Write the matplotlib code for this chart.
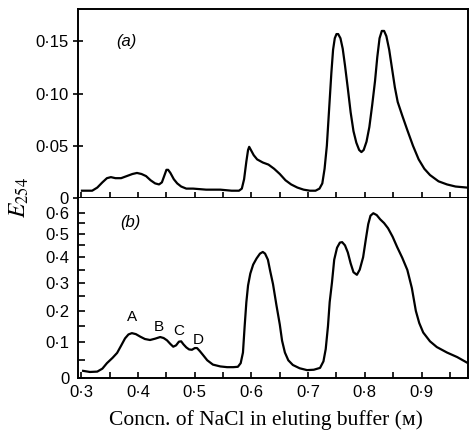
import numpy as np
import matplotlib
matplotlib.use("Agg")
from matplotlib import pyplot as plt
from matplotlib.ticker import FixedLocator, FixedFormatter

plt.rcParams['mathtext.fontset'] = 'stix'

# (a) elution profile, E254 vs NaCl concentration
conc_a = [0.301, 0.319, 0.328, 0.337, 0.345, 0.352, 0.360, 0.370, 0.380, 0.390,
          0.398, 0.406, 0.414, 0.422, 0.430, 0.437, 0.442, 0.446, 0.450, 0.453,
          0.457, 0.463, 0.469, 0.476, 0.485, 0.497, 0.520, 0.545, 0.565, 0.578,
          0.583, 0.587, 0.591, 0.594, 0.596, 0.599, 0.604, 0.610, 0.620, 0.630,
          0.640, 0.650, 0.660, 0.670, 0.681, 0.692, 0.703, 0.713, 0.720, 0.725,
          0.729, 0.733, 0.737, 0.741, 0.744, 0.747, 0.750, 0.753, 0.757, 0.761,
          0.765, 0.770, 0.775, 0.780, 0.785, 0.790, 0.794, 0.798, 0.803, 0.808,
          0.813, 0.818, 0.822, 0.826, 0.830, 0.834, 0.838, 0.843, 0.848, 0.853,
          0.858, 0.866, 0.875, 0.885, 0.895, 0.905, 0.915, 0.930, 0.945, 0.960, 0.980]
e254_a = [0.007, 0.007, 0.010, 0.015, 0.019, 0.020, 0.019, 0.019, 0.021, 0.023,
          0.024, 0.023, 0.021, 0.017, 0.014, 0.013, 0.015, 0.021, 0.027, 0.027,
          0.024, 0.018, 0.014, 0.011, 0.009, 0.009, 0.008, 0.008, 0.007, 0.007,
          0.009, 0.018, 0.035, 0.046, 0.049, 0.046, 0.041, 0.037, 0.034, 0.032,
          0.028, 0.023, 0.017, 0.013, 0.010, 0.008, 0.007, 0.007, 0.009, 0.014,
          0.028, 0.050, 0.085, 0.120, 0.142, 0.153, 0.157, 0.157, 0.153, 0.143,
          0.127, 0.105, 0.082, 0.064, 0.053, 0.046, 0.044, 0.046, 0.054, 0.068,
          0.089, 0.112, 0.135, 0.153, 0.160, 0.160, 0.155, 0.142, 0.124, 0.106,
          0.092, 0.079, 0.065, 0.050, 0.037, 0.028, 0.022, 0.016, 0.013, 0.011, 0.010]

# (b) elution profile
conc_b = [0.303, 0.315, 0.328, 0.337, 0.345, 0.355, 0.363, 0.370, 0.377, 0.383,
          0.389, 0.396, 0.404, 0.412, 0.421, 0.430, 0.439, 0.445, 0.451, 0.457,
          0.462, 0.467, 0.472, 0.476, 0.480, 0.485, 0.490, 0.495, 0.500, 0.504,
          0.509, 0.515, 0.522, 0.532, 0.545, 0.557, 0.568, 0.576, 0.581, 0.585,
          0.588, 0.591, 0.594, 0.598, 0.603, 0.609, 0.615, 0.620, 0.624, 0.629,
          0.633, 0.638, 0.644, 0.650, 0.654, 0.659, 0.665, 0.673, 0.685, 0.698,
          0.710, 0.721, 0.727, 0.731, 0.735, 0.738, 0.742, 0.746, 0.751, 0.756,
          0.760, 0.765, 0.770, 0.775, 0.780, 0.786, 0.791, 0.797, 0.802, 0.806,
          0.810, 0.815, 0.821, 0.827, 0.834, 0.841, 0.849, 0.857, 0.866, 0.875,
          0.883, 0.890, 0.896, 0.903, 0.915, 0.927, 0.945, 0.963, 0.982]
e254_b = [0.019, 0.016, 0.017, 0.025, 0.040, 0.055, 0.069, 0.090, 0.112, 0.124,
          0.128, 0.125, 0.117, 0.110, 0.107, 0.111, 0.116, 0.113, 0.106, 0.095,
          0.087, 0.091, 0.102, 0.103, 0.094, 0.085, 0.079, 0.078, 0.083, 0.083,
          0.074, 0.062, 0.048, 0.036, 0.031, 0.029, 0.029, 0.030, 0.040, 0.070,
          0.150, 0.230, 0.290, 0.335, 0.370, 0.395, 0.415, 0.422, 0.415, 0.390,
          0.345, 0.295, 0.220, 0.155, 0.105, 0.070, 0.048, 0.035, 0.026, 0.021,
          0.022, 0.027, 0.045, 0.080, 0.150, 0.230, 0.300, 0.390, 0.440, 0.462,
          0.464, 0.450, 0.420, 0.375, 0.340, 0.330, 0.350, 0.400, 0.480, 0.545,
          0.585, 0.597, 0.588, 0.568, 0.550, 0.526, 0.488, 0.443, 0.398, 0.349,
          0.280, 0.200, 0.160, 0.130, 0.103, 0.086, 0.070, 0.057, 0.040]

peak_names = ['A', 'B', 'C', 'D']
peak_x = [0.390, 0.437, 0.472, 0.507]
peak_y = [0.180, 0.147, 0.135, 0.107]

xticks = [0.3, 0.4, 0.5, 0.6, 0.7, 0.8, 0.9]
xlabels = ['0·3', '0·4', '0·5', '0·6', '0·7', '0·8', '0·9']
xminor = [0.35, 0.45, 0.55, 0.65, 0.75, 0.85, 0.95]
ya_ticks = [0, 0.05, 0.10, 0.15]
ya_labels = ['0', '0·05', '0·10', '0·15']
yb_ticks = [0, 0.1, 0.2, 0.3, 0.4, 0.5, 0.6]
yb_labels = ['0', '0·1', '0·2', '0·3', '0·4', '0·5', '0·6']
yb_minor = [0.05, 0.15, 0.25, 0.35, 0.45, 0.55]

fig = plt.figure(figsize=(4.7, 4.33), dpi=100)
ax1 = fig.add_axes([0.166, 0.5427, 0.8297, 0.4365])
ax2 = fig.add_axes([0.166, 0.127, 0.8297, 0.4157])

for ax in (ax1, ax2):
    ax.set_xlim(0.294, 0.982)
    ax.xaxis.set_major_locator(FixedLocator(xticks))
    ax.xaxis.set_minor_locator(FixedLocator(xminor))
    ax.tick_params(axis='x', which='both', direction='in', length=4, width=1.2)
    for s in ax.spines.values():
        s.set_linewidth(1.4)

# top panel
ax1.plot(conc_a, e254_a, color='black', lw=1.6)
ax1.set_ylim(0, 0.181)
ax1.yaxis.set_major_locator(FixedLocator(ya_ticks))
ax1.yaxis.set_major_formatter(FixedFormatter(ya_labels))
ax1.tick_params(axis='y', direction='inout', length=7, width=1.2, pad=3)
ax1.set_xticklabels([])
for lab in ax1.get_yticklabels():
    lab.set_fontfamily('Liberation Sans')
    lab.set_fontsize(12)
ax1.text(0.38, 0.150, '(a)', fontsize=12, style='italic', family='Liberation Sans',
         ha='center', va='center')

# bottom panel, compressed absorbance scale
fwd = lambda v: np.log(np.asarray(v) + 0.7)
inv = lambda u: np.exp(np.asarray(u)) - 0.7
ax2.set_yscale('function', functions=(fwd, inv))
ax2.plot(conc_b, e254_b, color='black', lw=1.6)
ax2.set_ylim(0, 0.673)
ax2.yaxis.set_major_locator(FixedLocator(yb_ticks))
ax2.yaxis.set_major_formatter(FixedFormatter(yb_labels))
ax2.yaxis.set_minor_locator(FixedLocator(yb_minor))
ax2.yaxis.set_minor_formatter(FixedFormatter([''] * len(yb_minor)))
ax2.tick_params(axis='y', which='both', direction='in', length=5, width=1.2, pad=6)
ax2.spines['top'].set_visible(False)
ax2.xaxis.set_major_formatter(FixedFormatter(xlabels))
for lab in ax2.get_yticklabels() + ax2.get_xticklabels():
    lab.set_fontfamily('Liberation Sans')
    lab.set_fontsize(12)
ax2.tick_params(axis='x', pad=5)
ax2.text(0.386, 0.555, '(b)', fontsize=12, style='italic', family='Liberation Sans',
         ha='center', va='center')
for name, px, py in zip(peak_names, peak_x, peak_y):
    ax2.text(px, py, name, fontsize=11, family='Liberation Sans', ha='center', va='center')

fig.text(266 / 470, 1 - 420 / 433, 'Concn. of NaCl in eluting buffer (\u1d0d)',
         fontsize=15.5, family=['Liberation Serif', 'DejaVu Serif'],
         ha='center', va='center')
fig.text(0.04, 1 - 198 / 433, r'$E_{254}$', fontsize=17, rotation=90,
         ha='center', va='center')

fig.savefig('out.png', dpi=100)
